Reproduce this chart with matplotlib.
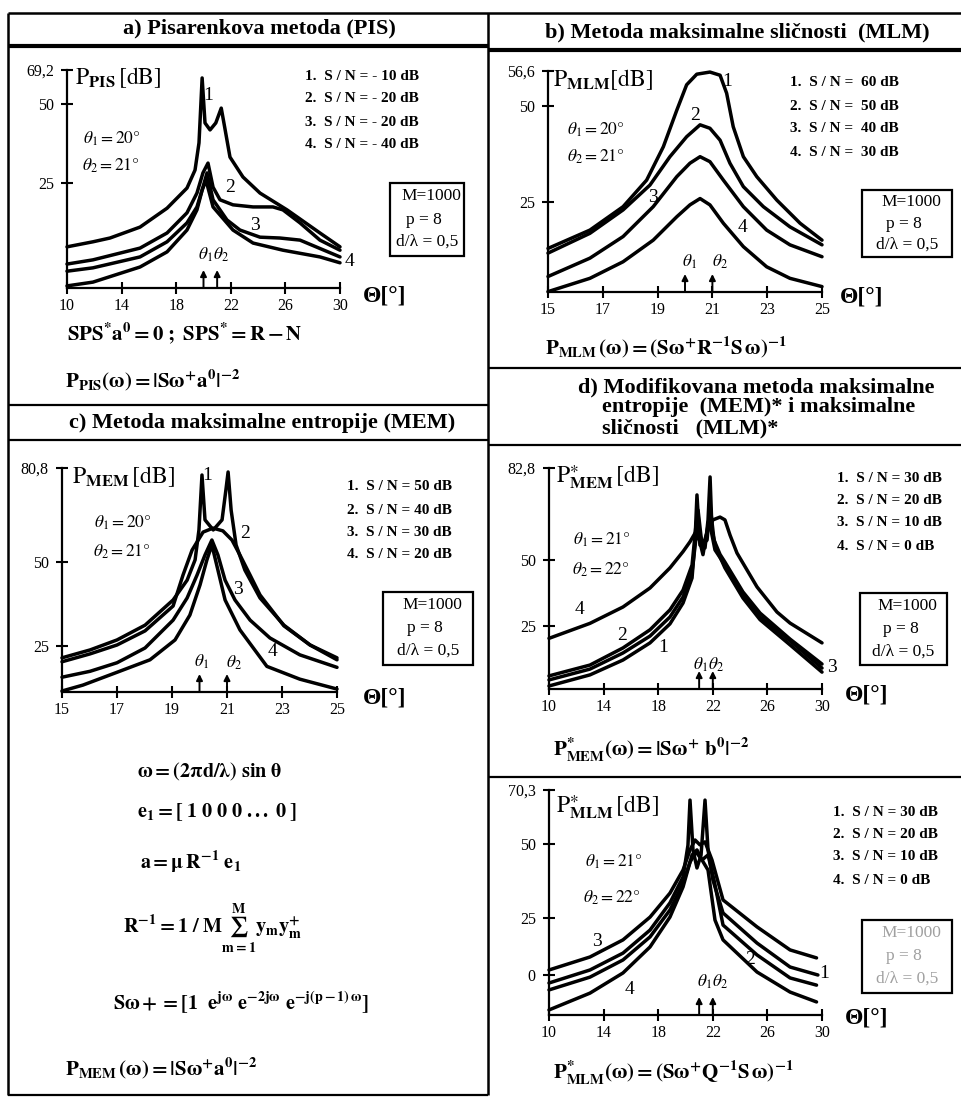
import numpy as np
import matplotlib
matplotlib.use("Agg")
import matplotlib.pyplot as plt
from matplotlib.patches import Rectangle

plt.rcParams['font.family'] = ['Liberation Serif', 'DejaVu Serif']
plt.rcParams['mathtext.fontset'] = 'stix'

W, H = 962, 1100  # canvas in pixels

# ---------------- a) Pisarenko (PIS) ----------------
a_th1 = [10, 11.9, 13.15, 15.35, 17.33, 18.79, 19.38, 19.67, 19.9, 20.11, 20.48, 20.9, 21.3, 21.55, 21.94, 22.89, 24.14, 26.12, 28.53, 30]
a_db1 = [9.8, 11.0, 11.9, 14.5, 19.0, 23.8, 29.1, 37.7, 64.7, 44.0, 41.8, 44.0, 48.7, 42.7, 33.2, 26.9, 22.6, 18.6, 13.1, 9.8]
a_th2 = [10, 11.9, 15.35, 17.33, 18.79, 19.52, 19.96, 20.33, 20.7, 21.21, 22.16, 23.63, 25.09, 25.82, 27.07, 28.53, 30]
a_db2 = [5.7, 6.7, 9.5, 13.1, 17.9, 22.6, 28.2, 31.3, 24.0, 21.0, 19.8, 19.3, 19.3, 18.6, 15.5, 11.4, 9.0]
a_th3 = [10, 11.9, 15.35, 17.33, 18.79, 19.52, 19.96, 20.26, 20.7, 21.72, 22.67, 24.14, 25.6, 27.07, 30]
a_db3 = [4.0, 4.8, 7.4, 11.0, 15.5, 19.3, 24.0, 28.2, 21.0, 16.2, 13.8, 12.1, 11.9, 11.4, 7.4]
a_th4 = [10, 11.9, 15.35, 17.33, 18.79, 19.52, 19.9, 20.18, 20.7, 22.16, 23.63, 25.82, 28.53, 30]
a_db4 = [0.5, 1.4, 5.0, 8.6, 13.8, 18.6, 23.3, 25.9, 19.3, 13.8, 10.7, 9.0, 7.4, 6.0]
a_theta = [20, 21]
a_xticks = [10, 14, 18, 22, 26, 30]
a_yticks = [25, 50, 69.2]
a_ylabels = ['25', '50', '69,2']
a_legend = ['1.  S / N = - 10 dB', '2.  S / N = - 20 dB', '3.  S / N = - 20 dB', '4.  S / N = - 40 dB']

# ---------------- b) MLM ----------------
b_th1 = [15, 16.53, 17.74, 18.6, 19.21, 19.7, 20.06, 20.43, 20.91, 21.28, 21.52, 21.76, 22.13, 22.62, 23.35, 24.2, 25]
b_db1 = [12.1, 17.2, 23.7, 30.7, 39.4, 48.9, 54.0, 56.0, 56.4, 55.8, 52.4, 44.6, 36.8, 31.6, 25.5, 19.1, 14.4]
b_th2 = [15, 16.53, 17.74, 18.72, 19.45, 20.06, 20.55, 20.91, 21.28, 21.64, 22.13, 22.86, 23.83, 25]
b_db2 = [10.8, 16.3, 22.8, 29.4, 36.8, 42.0, 45.1, 44.2, 41.1, 35.1, 29.0, 23.7, 18.1, 13.1]
b_th3 = [15, 16.53, 17.74, 18.84, 19.7, 20.18, 20.55, 20.91, 21.4, 22.13, 22.98, 23.83, 25]
b_db3 = [4.3, 9.4, 15.4, 23.7, 31.6, 35.1, 36.8, 35.5, 30.7, 23.7, 17.2, 13.1, 9.8]
b_th4 = [15, 16.53, 17.74, 18.84, 19.7, 20.18, 20.55, 20.91, 21.4, 22.13, 22.98, 23.83, 25]
b_db4 = [0.1, 3.8, 8.4, 14.4, 20.9, 24.2, 25.9, 24.2, 19.1, 12.6, 7.0, 3.8, 1.5]
b_theta = [20, 21]
b_xticks = [15, 17, 19, 21, 23, 25]
b_yticks = [25, 50, 56.6]
b_ylabels = ['25', '50', '56,6']
b_legend = ['1.  S / N =  60 dB', '2.  S / N =  50 dB', '3.  S / N =  40 dB', '4.  S / N =  30 dB']

# ---------------- c) MEM ----------------
c_th1 = [15, 16.02, 17, 18.02, 19.04, 19.55, 19.84, 19.98, 20.09, 20.2, 20.5, 20.82, 20.96, 21.04, 21.15, 21.33, 21.65, 22.2, 23.07, 24.02, 25]
c_db1 = [21.4, 23.8, 26.8, 31.2, 38.7, 44.6, 50.7, 60.5, 78.5, 63.8, 60.5, 63.8, 73.6, 79.5, 67.0, 55.6, 47.6, 39.3, 31.2, 25.3, 21.4]
c_th2 = [15, 16.02, 17, 18.02, 19.04, 19.4, 19.73, 20.13, 20.49, 20.85, 21.18, 21.47, 21.84, 22.2, 23.07, 24.02, 25]
c_db2 = [20.2, 22.6, 25.3, 29.5, 36.9, 46.1, 53.9, 59.8, 61.1, 60.2, 57.2, 52.3, 46.1, 40.2, 31.0, 25.3, 20.8]
c_th3 = [15, 16.02, 17, 18.02, 19.04, 19.55, 19.91, 20.2, 20.45, 20.67, 20.93, 21.29, 21.84, 22.56, 23.65, 25]
c_db3 = [15.5, 17.3, 19.9, 24.4, 32.7, 39.3, 46.1, 52.3, 57.2, 52.3, 44.6, 38.7, 32.7, 27.4, 22.3, 18.5]
c_th4 = [15, 15.76, 17, 18.2, 19.11, 19.65, 20.02, 20.27, 20.45, 20.67, 20.93, 21.47, 22.45, 23.65, 25]
c_db4 = [11.3, 13.1, 17.0, 20.8, 26.8, 34.2, 43.2, 50.7, 55.6, 47.6, 38.7, 29.8, 18.8, 14.9, 11.9]
c_theta = [20, 21]
c_xticks = [15, 17, 19, 21, 23, 25]
c_yticks = [25, 50, 80.8]
c_ylabels = ['25', '50', '80,8']
c_legend = ['1.  S / N = 50 dB', '2.  S / N = 40 dB', '3.  S / N = 30 dB', '4.  S / N = 20 dB']

# ---------------- d1) MEM* ----------------
d1_th1 = [10, 13.0, 15.42, 17.4, 18.86, 19.82, 20.48, 20.7, 20.84, 21.06, 21.43, 21.65, 21.8, 21.94, 22.23, 22.89, 24.21, 25.46, 27.66, 30]
d1_db1 = [1.2, 5.6, 11.5, 18.3, 25.8, 33.7, 43.2, 57.1, 73.2, 55.3, 54.3, 64.3, 79.6, 60.7, 54.3, 47.0, 35.6, 27.4, 17.5, 6.7]
d1_th2 = [10, 13.0, 15.42, 17.4, 18.86, 19.82, 20.48, 20.77, 20.92, 21.21, 21.58, 21.8, 22.09, 22.53, 22.89, 24.21, 25.46, 27.66, 30]
d1_db2 = [5.2, 9.5, 16.3, 23.5, 31.1, 38.6, 48.1, 62.5, 67.8, 55.3, 57.1, 69.6, 57.1, 52.0, 49.2, 37.9, 29.9, 19.8, 9.9]
d1_th3 = [10, 13.0, 15.42, 17.4, 18.86, 19.82, 20.48, 20.84, 21.28, 21.72, 22.16, 22.89, 24.21, 25.46, 27.66, 30]
d1_db3 = [3.6, 7.9, 14.3, 21.0, 28.4, 36.0, 45.5, 60.7, 51.9, 64.3, 53.6, 48.1, 36.4, 28.4, 19.1, 8.3]
d1_th4 = [10, 13.0, 15.42, 17.4, 18.86, 19.82, 20.33, 20.92, 21.28, 21.65, 22.01, 22.53, 22.89, 23.26, 23.77, 25.24, 26.7, 27.66, 30]
d1_db4 = [20.1, 26.0, 32.2, 39.4, 47.0, 53.0, 56.5, 61.4, 55.3, 60.7, 64.3, 65.3, 64.3, 58.9, 52.5, 39.8, 30.3, 26.1, 18.3]
d_theta = [21, 22]
d_xticks = [10, 14, 18, 22, 26, 30]
d1_yticks = [25, 50, 82.8]
d1_ylabels = ['25', '50', '82,8']
d_legend = ['1.  S / N = 30 dB', '2.  S / N = 20 dB', '3.  S / N = 10 dB', '4.  S / N = 0 dB']

# ---------------- d2) MLM* ----------------
d2_th1 = [10, 13.0, 15.42, 17.4, 18.86, 19.82, 20.18, 20.33, 20.55, 20.84, 21.14, 21.43, 21.65, 22.01, 22.75, 25.24, 27.66, 29.7]
d2_db1 = [-3.0, 2.2, 9.6, 19.7, 30.1, 38.9, 49.6, 66.5, 48.0, 41.9, 46.3, 66.5, 48.0, 37.8, 26.7, 14.0, 3.5, 0.0]
d2_th2 = [10, 13.0, 15.42, 17.4, 18.86, 19.82, 20.33, 20.77, 21.21, 21.65, 22.09, 22.75, 25.24, 27.66, 29.6]
d2_db2 = [-5.6, -0.8, 6.6, 16.7, 27.7, 36.8, 43.9, 47.3, 44.6, 46.3, 37.8, 21.9, 8.8, -1.1, -3.8]
d2_th3 = [10, 13.0, 15.42, 17.4, 18.86, 19.82, 20.33, 20.7, 21.06, 21.43, 21.94, 22.75, 25.24, 27.66, 29.6]
d2_db3 = [2.2, 7.9, 15.4, 25.3, 33.4, 41.2, 48.0, 51.5, 49.7, 50.8, 44.6, 31.1, 21.1, 11.0, 7.5]
d2_th4 = [10, 13.0, 15.42, 17.4, 18.86, 19.82, 20.48, 20.84, 21.21, 21.65, 22.16, 22.75, 25.24, 27.66, 29.6]
d2_db4 = [-13.1, -6.8, 0.9, 12.3, 25.3, 35.5, 46.3, 48.0, 44.6, 41.2, 24.1, 15.4, 1.3, -6.4, -10.1]
d2_yticks = [0, 25, 50, 70.3]
d2_ylabels = ['0', '25', '50', '70,3']

fig = plt.figure(figsize=(W / 100, H / 100), dpi=100)


def ext_interp(x, xp, fp):
    # piecewise linear, extended linearly past the ends
    x = np.asarray(x, dtype=float)
    y = np.interp(x, xp, fp)
    y = np.where(x < xp[0], fp[0] + (x - xp[0]) * (fp[1] - fp[0]) / (xp[1] - xp[0]), y)
    y = np.where(x > xp[-1], fp[-1] + (x - xp[-1]) * (fp[-1] - fp[-2]) / (xp[-1] - xp[-2]), y)
    return y


def make_panel(box, xlim, xticks, yanchor, ypix, yticks, ylabels, curves, thetas):
    left, right, top, bottom = box
    ax = fig.add_axes([left / W, 1 - bottom / H, (right - left) / W, (bottom - top) / H])
    ax.patch.set_visible(False)
    yv = np.asarray(yanchor, float)
    hp = H - np.asarray(ypix, float)
    # the hand-drawn axes are not evenly spaced, so follow their tick spacing
    ax.set_yscale('function', functions=(lambda v: ext_interp(v, yv, hp),
                                         lambda p: ext_interp(p, hp, yv)))
    for th, db in curves:
        ax.plot(th, db, color='k', lw=2.5, solid_joinstyle='round',
                solid_capstyle='round', clip_on=False)
    ax.set_xlim(xlim)
    ax.set_ylim(yv[0], yv[-1])
    ax.set_xticks(xticks)
    ax.set_yticks(yticks, ylabels)
    for s in ('top', 'right'):
        ax.spines[s].set_visible(False)
    for s in ('left', 'bottom'):
        ax.spines[s].set_linewidth(1.6)
    ax.tick_params(direction='inout', length=9, width=1.5, labelsize=11.5)
    ax.tick_params(axis='x', pad=3)
    ax.tick_params(axis='y', pad=5)
    frac = 18 / (bottom - top)
    for th in thetas:
        ax.annotate('', xy=(th, frac), xycoords=('data', 'axes fraction'),
                    xytext=(th, 0), textcoords=('data', 'axes fraction'),
                    arrowprops=dict(arrowstyle='-|>', color='k', lw=1.4,
                                    mutation_scale=9, shrinkA=0, shrinkB=0))
    return ax


make_panel((67, 340, 70, 288), (10, 30), a_xticks, [0, 25, 50, 69.2], [288, 183, 104, 70],
           a_yticks, a_ylabels,
           [(a_th1, a_db1), (a_th2, a_db2), (a_th3, a_db3), (a_th4, a_db4)], a_theta)
make_panel((548, 822, 71, 292), (15, 25), b_xticks, [0, 25, 50, 56.6], [292, 202, 106, 71],
           b_yticks, b_ylabels,
           [(b_th1, b_db1), (b_th2, b_db2), (b_th3, b_db3), (b_th4, b_db4)], b_theta)
make_panel((62, 337, 468, 692), (15, 25), c_xticks, [11, 25, 50, 80.8], [692, 646, 562, 468],
           c_yticks, c_ylabels,
           [(c_th1, c_db1), (c_th2, c_db2), (c_th3, c_db3), (c_th4, c_db4)], c_theta)
make_panel((549, 822, 468, 689), (10, 30), d_xticks, [0, 25, 50, 82.8], [689, 626, 560, 468],
           d1_yticks, d1_ylabels,
           [(d1_th1, d1_db1), (d1_th2, d1_db2), (d1_th3, d1_db3), (d1_th4, d1_db4)], d_theta)
make_panel((549, 822, 790, 1015), (10, 30), d_xticks, [-15, 0, 25, 50, 70.3], [1015, 975, 918, 844, 790],
           d2_yticks, d2_ylabels,
           [(d2_th1, d2_db1), (d2_th2, d2_db2), (d2_th3, d2_db3), (d2_th4, d2_db4)], d_theta)

# overlay in pixel coordinates for frames and annotations
ov = fig.add_axes([0, 0, 1, 1], zorder=10)
ov.set_xlim(0, W)
ov.set_ylim(H, 0)
ov.axis('off')


def hline(y, x0, x1, lw=1.6):
    ov.plot([x0, x1], [y, y], color='k', lw=lw, solid_capstyle='butt')


def vline(x, y0, y1, lw=1.6):
    ov.plot([x, x], [y0, y1], color='k', lw=lw, solid_capstyle='butt')


def put(x, y, s, size=12, weight='normal', ha='left', va='center', **kw):
    ov.text(x, y, s, fontsize=size, fontweight=weight, ha=ha, va=va, **kw)


def param_box(x0, y0, x1, y1, color='k'):
    ov.add_patch(Rectangle((x0, y0), x1 - x0, y1 - y0, fill=False, ec='k', lw=1.6))
    cx = (x0 + x1) / 2
    h = (y1 - y0)
    put(cx + 4, y0 + h * 0.18, 'M=1000', 12.5, ha='center', color=color)
    put(cx - 3, y0 + h * 0.5, 'p = 8', 12.5, ha='center', color=color)
    put(cx, y0 + h * 0.81, 'd/λ = 0,5', 12.5, ha='center', color=color)


def legend(x, ys, rows):
    for y, s in zip(ys, rows):
        put(x, y, s, 11, 'bold')


# frame
hline(13, 8, W, 1.8)
vline(8, 13, 1095, 1.8)
vline(488, 13, 1095, 1.8)
hline(46, 8, 488, 3.0)
hline(405, 8, 488)
hline(440, 8, 488)
hline(1095, 8, 488)
hline(50, 488, W, 3.0)
hline(368, 488, W)
hline(445, 488, W)
hline(777, 488, W)

# titles
put(259, 28, 'a) Pisarenkova metoda (PIS)', 16, 'bold', ha='center')
put(737, 32, 'b) Metoda maksimalne sličnosti  (MLM)', 16, 'bold', ha='center')
put(262, 423, 'c) Metoda maksimalne entropije (MEM)', 16, 'bold', ha='center')
put(578, 387, 'd) Modifikovana metoda maksimalne', 16, 'bold')
put(602, 407, 'entropije  (MEM)* i maksimalne', 16, 'bold')
put(602, 428, 'sličnosti   (MLM)*', 16, 'bold')

# panel a
put(75, 78, r'$\mathrm{P}_{\mathbf{PIS}}\,\mathrm{[dB]}$', 17)
put(83, 139, r'$\theta_1 = 20°$', 12.5)
put(82, 166, r'$\theta_2 = 21°$', 12.5)
legend(305, [77, 99, 122, 144], a_legend)
param_box(390, 183, 464, 256)
for s, x, y in [('1', 208, 96), ('2', 230, 188), ('3', 255, 225), ('4', 350, 262)]:
    put(x, y, s, 14, ha='center')
put(214, 255, r'$\theta_1\theta_2$', 12.5, ha='center')
put(363, 296, 'Θ[°]', 17, 'bold')
put(67, 333, r'$\mathbf{SPS^{*}a^{0} = 0\ ;\ SPS^{*} = R - N}$', 15)
put(65, 380, r'$\mathbf{P_{PIS}(\omega) = |S\omega^{+}a^{0}|^{-2}}$', 15)

# panel b
put(553, 80, r'$\mathrm{P}_{\mathbf{MLM}}\mathrm{[dB]}$', 17)
put(567, 130, r'$\theta_1 = 20°$', 12.5)
put(567, 157, r'$\theta_2 = 21°$', 12.5)
legend(790, [83, 107, 129, 152], b_legend)
param_box(862, 190, 952, 257)
for s, x, y in [('1', 727, 82), ('2', 695, 115), ('3', 653, 198), ('4', 743, 228)]:
    put(x, y, s, 14, ha='center')
put(690, 262, r'$\theta_1$', 12.5, ha='center')
put(720, 262, r'$\theta_2$', 12.5, ha='center')
put(840, 297, 'Θ[°]', 17, 'bold')
put(545, 347, r'$\mathbf{P_{MLM}\,(\omega) = (S\omega^{+}R^{-1}S\,\omega)^{-1}}$', 15)

# panel c
put(72, 477, r'$\mathrm{P}_{\mathbf{MEM}}\,\mathrm{[dB]}$', 17)
put(94, 523, r'$\theta_1 = 20°$', 12.5)
put(93, 552, r'$\theta_2 = 21°$', 12.5)
legend(347, [487, 510, 533, 555], c_legend)
param_box(383, 592, 473, 665)
for s, x, y in [('1', 207, 475), ('2', 245, 533), ('3', 238, 590), ('4', 273, 652)]:
    put(x, y, s, 14, ha='center')
put(202, 662, r'$\theta_1$', 12.5, ha='center')
put(234, 663, r'$\theta_2$', 12.5, ha='center')
put(363, 698, 'Θ[°]', 17, 'bold')
put(137, 772, r'$\mathbf{\omega = (2\pi d/\lambda)\ sin\ \theta}$', 14.5)
put(137, 812, r'$\mathbf{e_1 = [\ 1\ 0\ 0\ 0\ ...\ 0\ ]}$', 14.5)
put(140, 862, r'$\mathbf{a = \mu\,R^{-1}\ e_1}$', 14.5)
put(123, 928, r'$\mathbf{R^{-1} = 1\ /\ M\sum_{m=1}^{M} y_m y_m^{+}}$', 14.5)
put(113, 1003, r'$\mathbf{S\omega+ = [1\ \ e^{j\omega}\ e^{-2j\omega}\ e^{-j(p-1)\,\omega}]}$', 14.5)
put(65, 1068, r'$\mathbf{P_{MEM}\,(\omega) = |S\omega^{+}a^{0}|^{-2}}$', 15)

# panel d1
put(556, 477, r'$\mathrm{P}_{\mathbf{MEM}}^{\ast}\,\mathrm{[dB]}$', 17)
put(573, 540, r'$\theta_1 = 21°$', 12.5)
put(572, 570, r'$\theta_2 = 22°$', 12.5)
legend(837, [478, 501, 523, 546], d_legend)
param_box(860, 593, 947, 665)
for s, x, y in [('4', 580, 610), ('2', 622, 635), ('1', 663, 648), ('3', 832, 668)]:
    put(x, y, s, 14, ha='center')
put(709, 665, r'$\theta_1\theta_2$', 12.5, ha='center')
put(845, 695, 'Θ[°]', 17, 'bold')
put(553, 750, r'$\mathbf{P_{MEM}^{*}(\omega) = |S\omega^{+}\ b^{0}|^{-2}}$', 15)

# panel d2
put(556, 807, r'$\mathrm{P}_{\mathbf{MLM}}^{\ast}\,\mathrm{[dB]}$', 17)
put(585, 862, r'$\theta_1 = 21°$', 12.5)
put(583, 898, r'$\theta_2 = 22°$', 12.5)
legend(833, [812, 834, 857, 880], d_legend)
param_box(862, 920, 952, 993, color='#a0a0a0')
for s, x, y in [('3', 597, 942), ('4', 630, 990), ('1', 824, 973), ('2', 750, 960)]:
    put(x, y, s, 14, ha='center')
put(713, 982, r'$\theta_1\theta_2$', 12.5, ha='center')
put(845, 1018, 'Θ[°]', 17, 'bold')
put(553, 1073, r'$\mathbf{P_{MLM}^{*}(\omega) = (S\omega^{+}Q^{-1}S\,\omega)^{-1}}$', 15)

fig.savefig('out.png', dpi=100)
